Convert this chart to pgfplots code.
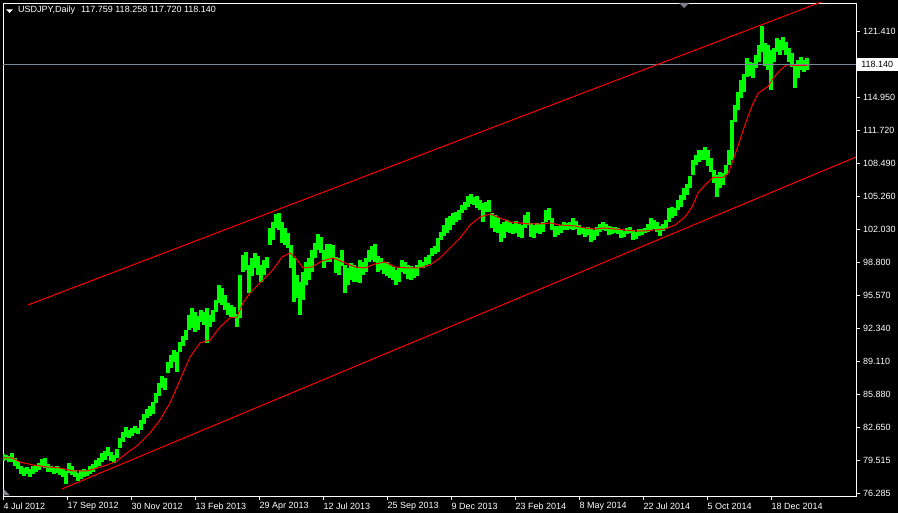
\documentclass[border=0pt]{standalone}
\usepackage{fontspec}
\setmainfont{Liberation Sans}
\usepackage{pgfplots}
\pgfplotsset{compat=1.18}
\usepackage{pgfplotstable}
\definecolor{mtgreen}{RGB}{0,255,0}
\definecolor{mtred}{RGB}{255,0,0}
\definecolor{mtline}{RGB}{119,136,153}
\definecolor{mtgray}{RGB}{128,128,140}

\pgfplotstableread{
x lo hi
3 79.41 80.10
6 79.51 80.00
9 79.31 79.90
12 79.31 80.20
15 78.92 79.71
18 78.63 79.41
21 78.15 78.92
24 77.95 78.73
27 78.15 78.83
30 77.85 78.63
33 78.15 78.92
36 78.34 79.02
39 78.54 79.22
42 78.83 79.61
45 78.73 79.71
48 78.34 79.12
51 78.34 78.92
54 78.15 78.83
57 78.24 78.92
60 78.05 78.73
63 77.85 78.63
66 77.17 78.44
69 78.24 79.22
72 78.05 78.92
75 77.85 78.54
78 77.46 78.24
81 77.66 78.54
84 77.85 78.63
87 77.95 78.54
90 78.15 78.92
93 78.34 79.12
96 78.73 79.51
99 78.92 79.71
102 79.31 80.20
105 79.51 80.39
108 79.90 80.78
111 79.41 80.29
114 79.22 80.00
117 79.71 80.59
120 80.68 81.66
123 81.27 82.25
126 81.76 82.74
129 81.66 82.44
132 81.86 82.64
135 82.15 82.83
138 82.05 82.64
141 82.44 83.42
144 83.03 84.01
147 83.61 84.50
150 83.81 84.79
153 84.01 85.18
156 85.08 86.06
159 85.76 87.04
162 86.55 87.72
165 86.35 87.53
168 88.01 89.08
171 88.50 89.77
174 89.08 90.26
177 88.11 90.06
180 90.06 91.04
183 90.65 91.62
186 91.23 92.21
189 92.21 93.68
192 92.40 94.36
195 92.01 93.97
198 92.21 93.58
201 92.99 94.16
204 92.70 93.97
207 90.94 94.36
210 92.50 93.68
213 92.99 94.16
216 93.97 95.14
219 94.85 96.60
222 94.65 96.31
225 94.16 95.63
228 93.68 94.85
231 93.48 94.65
234 93.38 94.46
237 92.50 93.78
240 93.38 97.58
243 97.88 99.54
246 98.07 99.83
249 95.82 98.56
252 97.49 99.24
255 98.27 99.73
258 97.58 99.44
261 96.90 98.56
264 97.58 99.05
267 98.27 99.34
270 100.51 102.17
273 101.00 102.76
276 102.17 103.54
279 101.98 103.64
282 100.71 102.76
285 100.51 102.17
288 100.22 101.68
291 98.27 100.51
294 94.94 99.24
297 95.34 97.58
300 93.68 96.90
303 95.14 97.88
306 96.60 98.85
309 97.09 99.24
312 97.88 100.02
315 99.24 100.71
318 100.02 101.58
321 99.73 101.29
324 98.27 100.02
327 98.85 100.61
330 98.85 100.61
333 99.24 100.51
336 97.78 99.34
339 97.58 99.24
342 98.46 100.02
345 95.82 98.56
348 96.60 98.27
351 97.09 98.75
354 96.90 98.56
357 96.90 98.27
360 96.80 99.05
363 97.58 98.85
366 97.88 99.24
369 98.85 100.02
372 99.05 100.41
375 98.85 100.61
378 97.88 99.44
381 98.07 99.24
384 97.68 98.85
387 97.49 98.85
390 97.29 98.56
393 97.09 98.36
396 96.60 98.07
399 96.90 98.27
402 97.88 99.05
405 97.68 98.85
408 97.19 98.56
411 97.09 98.46
414 97.29 98.27
417 97.49 98.56
420 98.27 99.05
423 98.27 98.85
426 98.56 99.34
429 98.66 99.54
432 99.44 100.22
435 99.63 100.41
438 99.83 101.19
441 101.00 101.78
444 101.39 102.46
447 101.68 103.15
450 101.98 103.34
453 102.46 103.64
456 102.76 103.73
459 102.95 103.93
462 103.64 104.42
465 103.93 104.71
468 104.22 105.30
471 104.52 105.49
474 104.42 105.20
477 104.13 105.30
480 103.93 104.91
483 102.76 104.61
486 103.73 104.71
489 103.73 104.91
492 102.17 103.64
495 101.78 103.44
498 101.68 103.15
501 100.81 102.56
504 101.19 102.76
507 101.78 102.95
510 101.68 102.76
513 101.58 102.56
516 101.68 102.86
519 101.29 102.56
522 101.19 102.46
525 102.17 103.44
528 102.46 103.73
531 101.29 102.66
534 101.19 102.46
537 101.68 102.66
540 101.58 102.56
543 101.78 102.76
546 102.76 103.93
549 102.95 104.13
552 101.98 103.15
555 101.29 102.37
558 101.49 102.37
561 101.68 102.46
564 101.98 102.76
567 101.98 102.66
570 102.07 102.76
573 101.98 103.15
576 102.07 102.86
579 101.49 102.46
582 101.58 102.27
585 101.29 102.17
588 101.49 102.27
591 100.81 102.07
594 101.00 101.98
597 101.39 102.27
600 101.78 102.56
603 101.98 102.76
606 101.88 102.56
609 101.49 102.37
612 101.58 102.27
615 101.68 102.27
618 101.58 102.17
621 101.19 101.98
624 101.29 101.88
627 101.58 102.17
630 101.68 102.27
633 101.00 101.98
636 101.10 101.78
639 101.39 102.07
642 101.49 102.07
645 101.68 102.17
648 101.78 102.56
651 101.98 103.15
654 102.07 102.95
657 101.78 102.76
660 101.39 102.37
663 101.88 102.56
666 102.17 102.95
669 102.76 104.13
672 103.15 104.22
675 103.34 104.13
678 103.93 104.91
681 104.22 105.39
684 104.91 106.08
687 105.39 106.47
690 106.08 107.25
693 107.35 108.81
696 108.32 109.30
699 108.62 109.79
702 108.81 109.79
705 108.81 110.08
708 108.23 109.79
711 107.64 109.01
714 106.57 107.84
717 105.20 107.35
720 106.08 107.64
723 106.37 107.54
726 107.35 108.32
729 108.32 109.79
732 108.81 112.72
735 112.52 114.18
738 113.70 115.45
741 114.87 116.63
744 115.45 117.21
747 116.92 118.78
750 117.02 118.38
753 116.82 118.29
756 117.80 119.07
759 118.38 120.05
762 119.36 121.90
765 117.99 120.24
768 117.60 120.05
771 115.65 119.56
774 118.38 119.75
777 119.36 120.73
780 119.07 120.53
783 119.56 120.83
786 119.07 120.34
789 118.38 119.75
792 117.90 119.26
795 115.84 117.99
798 116.82 118.58
801 117.60 118.87
804 117.41 118.58
807 117.60 118.78
}\candles

\pgfplotstableread{
x ma
3 79.71
12 79.71
20 79.31
33 79.02
47 78.83
60 78.73
73 78.44
87 78.44
97 78.73
107 79.02
117 79.41
127 80.20
137 80.88
150 82.15
160 83.42
170 85.08
180 87.33
190 89.57
200 90.94
210 91.23
220 92.50
230 93.38
237 93.48
243 94.85
250 95.82
260 96.80
270 97.78
275 98.36
282 99.34
290 99.73
295 99.34
303 98.27
312 98.36
322 98.95
333 99.24
343 98.85
355 98.36
365 98.27
375 98.66
385 98.85
395 98.36
408 98.27
420 98.27
430 98.56
440 99.24
450 100.22
460 101.19
470 102.46
480 103.25
490 103.54
500 103.15
510 102.76
520 102.66
530 102.56
540 102.56
550 102.66
560 102.46
575 102.37
585 102.17
595 102.07
605 102.17
615 102.07
625 101.98
635 101.88
645 101.88
655 101.98
665 102.07
675 102.46
685 103.25
692 104.22
698 105.59
705 106.37
713 107.11
723 107.11
728 107.50
733 108.77
738 110.17
743 111.70
748 113.07
753 114.34
758 115.31
762 115.60
768 115.99
773 116.78
780 117.56
787 118.14
793 118.05
800 118.05
807 118.05
}\matable

\begin{document}
\begin{tikzpicture}
\useasboundingbox (0,0) rectangle (898bp,513bp);
\fill[black] (0,0) rectangle (898bp,513bp);
\begin{axis}[
  at={(3bp,17bp)}, anchor=south west,
  width=853bp, height=493bp, scale only axis,
  xmin=3, xmax=856, ymin=75.992, ymax=124.147,
  axis line style={white, line width=0.8bp},
  xtick={3,67,131,195,259,323,387,451,515,579,643,707,771},
  xticklabels={4 Jul 2012,17 Sep 2012,30 Nov 2012,13 Feb 2013,29 Apr 2013,12 Jul 2013,25 Sep 2013,9 Dec 2013,23 Feb 2014,8 May 2014,22 Jul 2014,5 Oct 2014,18 Dec 2014},
  ytick={76.285,79.515,82.65,85.88,89.11,92.34,95.57,98.80,102.03,105.26,108.49,111.72,114.95,121.41},
  yticklabels={76.285,79.515,82.650,85.880,89.110,92.340,95.570,98.800,102.030,105.260,108.490,111.720,114.950,121.410},
  xtick pos=left, ytick pos=right, yticklabel pos=right,
  tick align=outside, major tick length=4bp,
  tick style={white, line width=0.8bp},
  xticklabel style={anchor=west, yshift=-6bp, xshift=0.5bp, inner sep=0pt, text=white, font=\fontsize{9bp}{10bp}\selectfont},
  yticklabel style={anchor=west, xshift=3bp, inner sep=0pt, text=white, font=\fontsize{9bp}{10bp}\selectfont},
]
\addplot[draw=none, forget plot, error bars/.cd, y dir=minus, y explicit, error mark=none,
  error bar style={draw=mtgreen, line width=3.1bp}]
  table[x=x, y=hi, y error minus expr=\thisrow{hi}-\thisrow{lo}] {\candles};
\addplot[mtred, line width=1bp] table[x=x, y=ma] {\matable};
\addplot[mtline, line width=0.8bp] coordinates {(3,118.14) (856,118.14)};
\addplot[mtred, line width=1bp] coordinates {(28,94.65) (856,125.54)};
\addplot[mtred, line width=1bp] coordinates {(62,76.68) (856,109.10)};
\coordinate (pl) at (axis cs:856,118.14);
\end{axis}
\node[fill=white, text=black, anchor=west, inner sep=0pt, minimum width=41bp, minimum height=13bp,
  font=\fontsize{9bp}{10bp}\selectfont] at ([xshift=0.5bp]pl) {118.140};
\fill[white] (6bp,503.5bp) -- (13bp,503.5bp) -- (9.5bp,500bp) -- cycle;
\node[anchor=west, inner sep=0pt, text=white, font=\fontsize{9bp}{10bp}\selectfont] at (18bp,502.5bp)
  {USDJPY,Daily\hspace{6bp}117.759 118.258 117.720 118.140};
\fill[mtgray] (679bp,510bp) -- (689bp,510bp) -- (684bp,505bp) -- cycle;
\fill[mtgray] (3.5bp,17.5bp) -- (10bp,17.5bp) -- (3.5bp,24bp) -- cycle;
\end{tikzpicture}
\end{document}
